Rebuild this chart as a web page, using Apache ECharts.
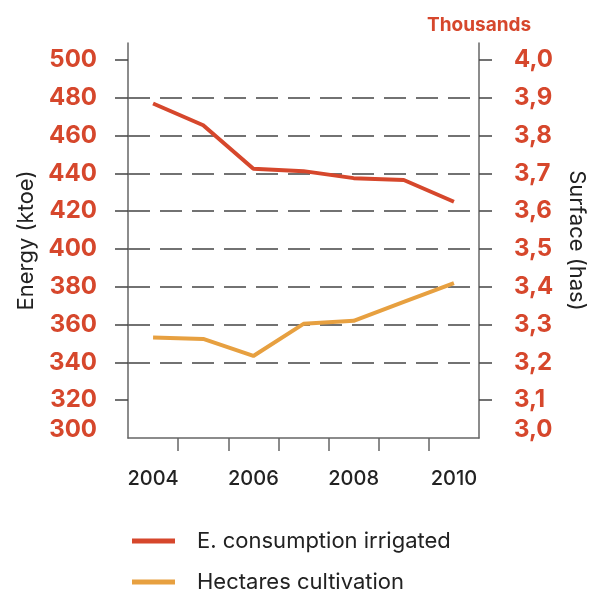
<!DOCTYPE html>
<html>
<head>
<meta charset="utf-8">
<script src="https://cdn.jsdelivr.net/npm/echarts@6/dist/echarts.min.js"></script>
<style>
  html, body { margin: 0; padding: 0; background: #fff; }
  #chart { width: 590px; height: 591px; }
</style>
</head>
<body>
<div id="chart"></div>
<script>
// Years on the horizontal axis
var years = [2004, 2005, 2006, 2007, 2008, 2009, 2010];
// Energy consumption of irrigated land (ktoe), left axis
var energy = [477, 465.5, 442.5, 441.2, 437.5, 436.5, 425];
// Cultivated surface (thousands of hectares), right axis
var surface = [3.266, 3.262, 3.217, 3.302, 3.31, 3.36, 3.41];

// Tick labels
var yearLabels = [2004, 2006, 2008, 2010];
var energyTicks = [300, 320, 340, 360, 380, 400, 420, 440, 460, 480, 500];
var surfaceTicks = [3.0, 3.1, 3.2, 3.3, 3.4, 3.5, 3.6, 3.7, 3.8, 3.9, 4.0];
var yearBounds = [2004.5, 2005.5, 2006.5, 2007.5, 2008.5, 2009.5];

var seriesNames = ['E. consumption irrigated', 'Hectares cultivation'];

var RED = '#d6472c';
var ORANGE = '#e7a040';
var AXIS = '#666';
var FONT = 'Inter';

function pairs(xs, ys) {
  return xs.map(function (x, i) { return [x, ys[i]]; });
}

var labelBase = { color: RED, fontSize: 24, fontWeight: 'bold', fontFamily: FONT };

function legendFor(name, top) {
  return {
    orient: 'vertical',
    left: 132, top: top,
    padding: 0,
    itemWidth: 43, itemHeight: 5,
    icon: 'rect',
    textStyle: { color: '#222', fontSize: 22, fontFamily: FONT, padding: [0, 0, 0, 17] },
    data: [name]
  };
}

var chart = echarts.init(document.getElementById('chart'), null, { renderer: 'canvas' });
chart.setOption({
  animation: false,
  title: {
    text: 'Thousands',
    left: 422, top: 11,
    textStyle: { color: RED, fontSize: 19, fontWeight: 'bold', fontFamily: FONT }
  },
  grid: { left: 128, right: 111, top: 43, bottom: 153, outerBoundsMode: 'none' },
  legend: [legendFor(seriesNames[0], 530), legendFor(seriesNames[1], 571)],
  xAxis: {
    type: 'value',
    min: 2003.5, max: 2010.5,
    axisLine: { show: true, lineStyle: { color: AXIS, width: 1.5 } },
    axisTick: { show: true, customValues: yearBounds, length: 13, lineStyle: { color: AXIS, width: 1.5 } },
    axisLabel: {
      customValues: yearLabels, margin: 31,
      color: '#222', fontSize: 20, fontWeight: 500, fontFamily: FONT,
      formatter: function (v) { return String(v); }
    },
    splitLine: { show: false }
  },
  yAxis: [{
    type: 'value',
    name: 'Energy (ktoe)',
    nameLocation: 'middle', nameRotate: 90, nameGap: 89,
    nameTextStyle: { color: '#222', fontSize: 22, fontFamily: FONT },
    min: 300, max: 509,
    axisLine: { show: true, lineStyle: { color: AXIS, width: 1.5 } },
    axisTick: { show: true, customValues: energyTicks.slice(1), length: 13, lineStyle: { color: '#444', width: 1.5 } },
    axisLabel: {
      customValues: energyTicks, margin: 31,
      color: RED, fontSize: 24, fontWeight: 'bold', fontFamily: FONT,
      formatter: function (v) { return v === 300 ? '{low|' + v + '}' : String(v); },
      rich: { low: Object.assign({ padding: [0, 0, 16, 0] }, labelBase) }
    },
    splitLine: { show: true, showMinLine: false, showMaxLine: false, lineStyle: { color: '#444', width: 1.5, type: [22, 10] } }
  }, {
    type: 'value',
    position: 'right',
    name: 'Surface (has)',
    nameLocation: 'middle', nameRotate: -90, nameGap: 87,
    nameTextStyle: { color: '#222', fontSize: 22, fontFamily: FONT },
    min: 3.0, max: 4.045,
    axisLine: { show: true, lineStyle: { color: AXIS, width: 1.5 } },
    axisTick: { show: true, customValues: surfaceTicks.slice(1), length: 13, lineStyle: { color: '#444', width: 1.5 } },
    axisLabel: {
      customValues: surfaceTicks, margin: 35,
      color: RED, fontSize: 24, fontWeight: 'bold', fontFamily: FONT,
      formatter: function (v) {
        var s = v.toFixed(1).replace('.', ',');
        return Math.abs(v - 3.0) < 1e-9 ? '{low|' + s + '}' : s;
      },
      rich: { low: Object.assign({ padding: [0, 0, 16, 0] }, labelBase) }
    },
    splitLine: { show: false }
  }],
  series: [{
    name: seriesNames[0],
    type: 'line',
    yAxisIndex: 0,
    data: pairs(years, energy),
    symbol: 'none',
    lineStyle: { color: RED, width: 4 },
    itemStyle: { color: RED }
  }, {
    name: seriesNames[1],
    type: 'line',
    yAxisIndex: 1,
    data: pairs(years, surface),
    symbol: 'none',
    lineStyle: { color: ORANGE, width: 4 },
    itemStyle: { color: ORANGE }
  }]
});
</script>
</body>
</html>
